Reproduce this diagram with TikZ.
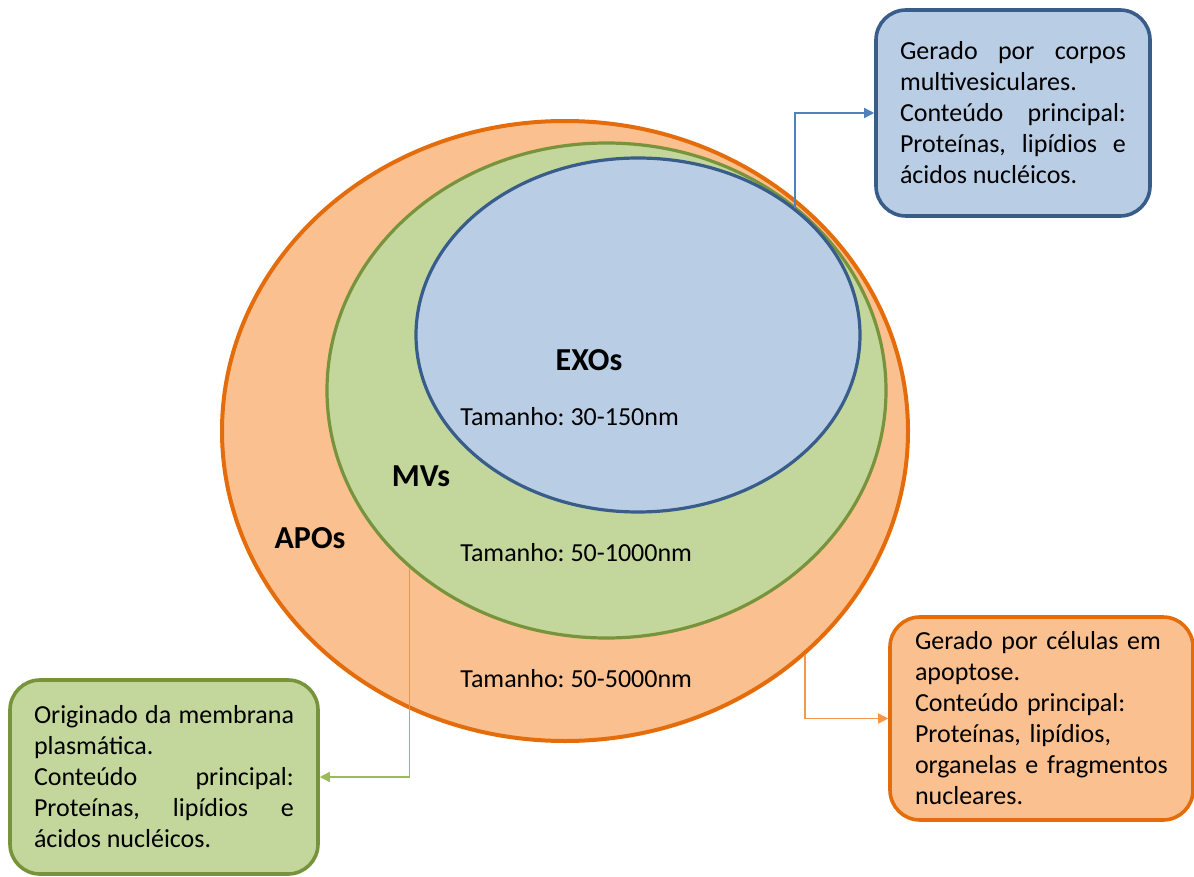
\documentclass[tikz,border=0pt]{standalone}
\usepackage{fontspec}
\setmainfont{Carlito}
\usetikzlibrary{shapes.geometric, arrows.meta}

\definecolor{apofill}{HTML}{FAC090}
\definecolor{apoline}{HTML}{E46C0A}
\definecolor{apolink}{HTML}{F79646}
\definecolor{mvfill}{HTML}{C3D69B}
\definecolor{mvline}{HTML}{77933C}
\definecolor{mvlink}{HTML}{9BBB59}
\definecolor{exofill}{HTML}{B9CDE5}
\definecolor{exoline}{HTML}{385D8A}
\definecolor{exolink}{HTML}{4F81BD}

\tolerance=10000
\hbadness=10000
\setlength{\parindent}{0pt}
\frenchspacing

\begin{document}
\begin{tikzpicture}[x=0.5pt, y=-0.5pt,
  vesicle/.style={ellipse, inner sep=0pt},
  infobox/.style={rounded corners=15pt, line width=1.8pt, inner xsep=12pt,
    font=\fontsize{13}{15.5}\selectfont},
  size/.style={anchor=west, inner sep=0pt, font=\fontsize{13}{15.5}\selectfont},
  tag/.style={inner sep=0pt, font=\fontsize{16}{19}\selectfont\bfseries},
  link/.style={line width=0.8pt, -{Triangle[length=5pt, width=5pt]}}]
\useasboundingbox (0,0) rectangle (1194,877);

% the three vesicle populations
\node [vesicle, draw=apoline, fill=apofill, line width=2pt,
  minimum width=343pt, minimum height=310pt] (apo) at (565,431) {};
\node [vesicle, draw=mvline, fill=mvfill, line width=1.6pt,
  minimum width=279.5pt, minimum height=247.5pt] (mv) at (606.5,390.5) {};
\node [vesicle, draw=exoline, fill=exofill, line width=1.6pt,
  minimum width=222pt, minimum height=177pt] (exo) at (638,335) {};

\node [tag] (exotag) at (589,360) {EXOs};
\node [size] (exosize) at (460,417) {Tamanho: 30-150nm};
\node [tag] (mvtag) at (421,476) {MVs};
\node [size] (mvsize) at (460,553) {Tamanho: 50-1000nm};
\node [tag] (apotag) at (310,538) {APOs};
\node [size] (aposize) at (460,679) {Tamanho: 50-5000nm};

% description boxes
\node [infobox, draw=exoline, fill=exofill, text width=113pt, align=justify,
  minimum height=103pt] (exobox) at (1013,113)
  {Gerado por corpos\linebreak multivesiculares.\par
   Conteúdo principal:\linebreak Proteínas, lipídios e\linebreak ácidos nucléicos.};
\node [infobox, draw=apoline, fill=apofill, text width=126.5pt, inner xsep=12.5pt,
  align=left, minimum height=101.5pt] (apobox) at (1041.5,718.5)
  {Gerado por células em\\ apoptose.\\ Conteúdo principal:\\
   Proteínas, lipídios,\\ organelas e fragmentos\\ nucleares.};
\node [infobox, draw=mvline, fill=mvfill, text width=130pt, align=justify,
  minimum height=97pt] (mvbox) at (164,777)
  {Originado da membrana\linebreak plasmática.\par
   Conteúdo principal:\linebreak Proteínas, lipídios e\linebreak ácidos nucléicos.};

% connectors
\draw [link, draw=exolink] (exo.39) |- (exobox);
\draw [link, draw=mvlink] (mv.222) |- (mvbox);
\draw [link, draw=apolink] (apo.317.5) |- (apobox);

\end{tikzpicture}
\end{document}
